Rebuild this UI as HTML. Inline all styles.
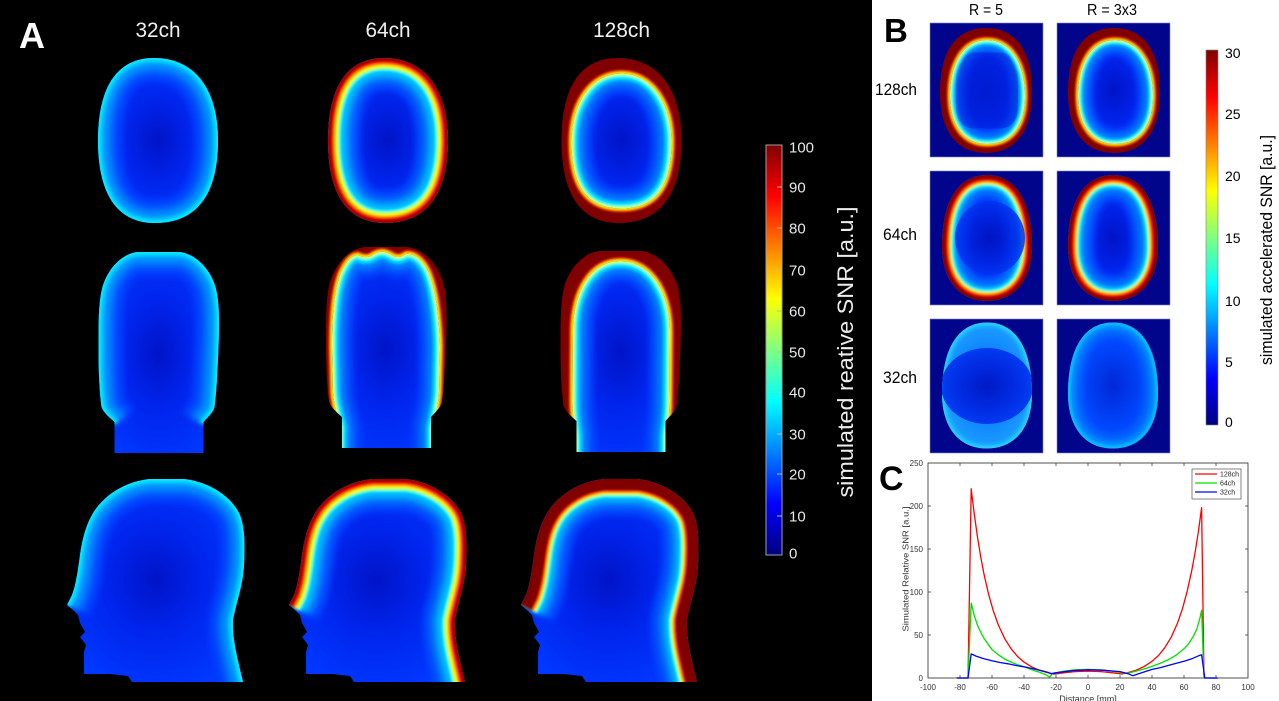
<!DOCTYPE html>
<html><head><meta charset="utf-8">
<style>
html,body{margin:0;padding:0;background:#000;}
svg{display:block;}
text{font-family:"Liberation Sans",sans-serif;}
</style></head><body>
<svg width="1279" height="701" viewBox="0 0 1279 701" xmlns="http://www.w3.org/2000/svg">
<defs>
 <path id="axO" d="M -4,-82.5 C 35,-82.5 60,-53.6 60,0 C 60,53.6 39,82.5 -3,82.5 C -41,82.5 -60,53.6 -60,0 C -60,-53.6 -41,-82.5 -4,-82.5 Z"/>
 <path id="axI" d="M 0,-67 C 30,-67 50,-38 50,2 C 50,45 35,68 0,68 C -35,68 -50,45 -50,2 C -50,-38 -30,-67 0,-67 Z"/>
 <path id="corO" d="M -21,0 L 21,0 C 38,2 52,18 57,35 C 61,50 61,70 60,95 C 59,120 58,140 56,155 C 54,162 48,166 45,170 L 45,201 L -44,201 L -44,170 C -48,166 -54,162 -57,155 C -59,140 -60,120 -60,95 C -60,70 -60,50 -56,35 C -51,18 -38,2 -21,0 Z"/>
 <path id="corB" d="M -44,172 C -48,166 -54,162 -57,155 C -59,140 -60,120 -60,95 C -60,70 -60,50 -56,35 C -51,18 -38,2 -21,0 L 21,0 C 38,2 52,18 57,35 C 61,50 61,70 60,95 C 59,120 58,140 56,155 C 54,162 48,166 45,172"/>
 <path id="c64I" d="M -46,260 L -46,180 C -48,170 -52,160 -53,145 L -54,100 C -54,70 -52,45 -46,28 C -41,16 -35,8 -28,8 C -22,11 -17,11 -12,7 C -6,4 -2,4 4,7 C 10,11 14,11 20,7 C 28,6 36,12 42,24 C 49,40 53,65 54,100 L 53,145 C 52,160 49,170 47,180 L 47,260 Z"/>
 <path id="c128I" d="M -45,260 L -45,185 C -46,175 -48,165 -48,150 L -47.5,80 C -47,40 -30,10 0,10 C 30,10 49,40 49.5,80 L 49,150 C 49,165 47,175 46,185 L 46,260 Z"/>
 <path id="sagO" d="M 150,479 L 184,479 C 210,482 232,497 240,515 C 245,528 245,545 244,565 C 243,585 237,600 233,620 C 232,640 238,660 243,682 L 132,682 L 128,676 L 110,674 L 84,674 L 84,652 L 86,645 L 80,637 L 85,632 L 80,623 L 78,615 L 73,610 L 67,605 L 72,595 C 76,585 78,570 80,555 C 82,540 86,525 92,515 C 100,500 120,482 150,479 Z"/>
 <path id="sagB" d="M 67,605 L 72,595 C 76,585 78,570 80,555 C 82,540 86,525 92,515 C 100,500 120,482 150,479 L 184,479 C 210,482 232,497 240,515 C 245,528 245,545 244,565 C 243,585 237,600 233,620 C 232,640 238,660 243,682 L 246,700"/>
 <path id="bO" d="M 0,-62.5 C 30,-62.5 46,-40 46,2 C 46,40 30,62.5 0,62.5 C -30,62.5 -46,40 -46,2 C -46,-40 -30,-62.5 0,-62.5 Z"/>
 <path id="bI" d="M 1,-50.5 C 24,-50.5 39,-28 39,5 C 39,35 26,53.5 1,53.5 C -22,53.5 -36,35 -36,5 C -36,-28 -22,-50.5 1,-50.5 Z"/>
 <path id="bE" d="M 0,-63 C 30,-63 45,-35 45,8 C 45,42 28,63 0,63 C -28,63 -45,42 -45,8 C -45,-35 -30,-63 0,-63 Z"/>
 <clipPath id="cAx"><use href="#axO"/></clipPath>
 <clipPath id="cAxI"><use href="#axI"/></clipPath>
 <clipPath id="cCor"><use href="#corO"/></clipPath>
 <clipPath id="c64Ic"><use href="#c64I"/></clipPath>
 <clipPath id="c128Ic"><use href="#c128I"/></clipPath>
 <clipPath id="cSag"><use href="#sagO"/></clipPath>
 <clipPath id="cB"><use href="#bO"/></clipPath>
 <clipPath id="cBI"><use href="#bI"/></clipPath>
 <clipPath id="cBE"><use href="#bE"/></clipPath>
 <filter id="bl" filterUnits="userSpaceOnUse" x="-2000" y="-2000" width="5000" height="5000"><feGaussianBlur stdDeviation="1.2"/></filter>
 <filter id="bl2" filterUnits="userSpaceOnUse" x="-2000" y="-2000" width="5000" height="5000"><feGaussianBlur stdDeviation="3"/></filter>
 <radialGradient id="gi" cx="50%" cy="50%" r="55%">
  <stop offset="0" stop-color="#0014c8"/><stop offset="0.45" stop-color="#0024ec"/><stop offset="1" stop-color="#0038ff"/>
 </radialGradient>
 <radialGradient id="gi32" cx="50%" cy="50%" r="55%">
  <stop offset="0" stop-color="#0028d8"/><stop offset="0.6" stop-color="#0048ff"/><stop offset="1" stop-color="#1070ff"/>
 </radialGradient>
 <radialGradient id="gLite" cx="50%" cy="50%" r="55%">
  <stop offset="0" stop-color="#0060ff"/><stop offset="1" stop-color="#20a8ff"/>
 </radialGradient>
 <radialGradient id="gDark" cx="50%" cy="50%" r="50%">
  <stop offset="0" stop-color="#0014c0"/><stop offset="0.6" stop-color="#0024e0"/><stop offset="1" stop-color="#0034f0"/>
 </radialGradient>
 <linearGradient id="jet" x1="0" y1="1" x2="0" y2="0">
  <stop offset="0" stop-color="#000080"/><stop offset="0.125" stop-color="#0000ff"/><stop offset="0.375" stop-color="#00ffff"/><stop offset="0.625" stop-color="#ffff00"/><stop offset="0.875" stop-color="#ff0000"/><stop offset="1" stop-color="#800000"/>
 </linearGradient>
</defs>

<rect width="1279" height="701" fill="#000"/>
<rect x="872" y="0" width="407" height="701" fill="#fff"/>

<!-- ============ PANEL A ============ -->
<text x="19" y="48" font-size="36" font-weight="bold" fill="#fff">A</text>
<text x="158" y="37" font-size="21" fill="#f0f0f0" text-anchor="middle" textLength="45" lengthAdjust="spacingAndGlyphs">32ch</text>
<text x="388" y="37" font-size="21" fill="#f0f0f0" text-anchor="middle" textLength="45" lengthAdjust="spacingAndGlyphs">64ch</text>
<text x="621.5" y="37" font-size="21" fill="#f0f0f0" text-anchor="middle" textLength="57" lengthAdjust="spacingAndGlyphs">128ch</text>

<!-- Row 1 axial -->
<g transform="translate(158,140.5)"><g clip-path="url(#cAx)">
 <rect x="-62" y="-85" width="124" height="170" fill="url(#gi)"/>
 <g filter="url(#bl2)" fill="none">
  <use href="#axO" stroke="#0040ff" stroke-width="48"/>
  <use href="#axO" stroke="#0068ff" stroke-width="32"/>
  <use href="#axO" stroke="#0098ff" stroke-width="20"/>
 </g>
 <g filter="url(#bl)" fill="none">
  <use href="#axO" stroke="#00c8ff" stroke-width="10"/>
  <use href="#axO" stroke="#10e8ff" stroke-width="4"/>
 </g>
</g></g>
<g transform="translate(388,140.5)"><g clip-path="url(#cAx)">
 <rect x="-62" y="-85" width="124" height="170" fill="url(#gi)"/>
 <g filter="url(#bl2)" fill="none">
  <use href="#axO" stroke="#0048ff" stroke-width="64"/>
  <use href="#axO" stroke="#0078ff" stroke-width="48"/>
  <use href="#axO" stroke="#00c0ff" stroke-width="36"/>
 </g>
 <g filter="url(#bl)" fill="none">
  <use href="#axO" stroke="#00ffff" stroke-width="26"/>
  <use href="#axO" stroke="#c0ff40" stroke-width="22"/>
  <use href="#axO" stroke="#ffff00" stroke-width="18"/>
  <use href="#axO" stroke="#ff8000" stroke-width="14"/>
  <use href="#axO" stroke="#ff0000" stroke-width="11"/>
  <use href="#axO" stroke="#a00000" stroke-width="7"/>
 </g>
</g></g>
<g transform="translate(621.5,140.5)"><g clip-path="url(#cAx)">
 <rect x="-62" y="-85" width="124" height="170" fill="#800000"/>
 <g filter="url(#bl)" fill="none">
  <use href="#axI" stroke="#ff0000" stroke-width="7"/>
  <use href="#axI" stroke="#ff9000" stroke-width="4.5"/>
  <use href="#axI" stroke="#ffff00" stroke-width="2.5"/>
 </g>
 <g clip-path="url(#cAxI)">
  <rect x="-62" y="-85" width="124" height="170" fill="url(#gi)"/>
  <g filter="url(#bl2)" fill="none">
   <use href="#axI" stroke="#0048ff" stroke-width="40"/>
   <use href="#axI" stroke="#0080ff" stroke-width="24"/>
  </g>
  <g filter="url(#bl)" fill="none">
   <use href="#axI" stroke="#00d0ff" stroke-width="14"/>
   <use href="#axI" stroke="#00ffff" stroke-width="8"/>
   <use href="#axI" stroke="#a0ff80" stroke-width="4"/>
   <use href="#axI" stroke="#ffff00" stroke-width="2"/>
  </g>
 </g>
</g></g>

<!-- Row 2 coronal -->
<g transform="translate(158.5,252)"><g clip-path="url(#cCor)">
 <rect x="-65" y="-5" width="130" height="215" fill="url(#gi)"/>
 <g filter="url(#bl2)" fill="none">
  <use href="#corB" stroke="#0040ff" stroke-width="48"/>
  <use href="#corB" stroke="#0068ff" stroke-width="32"/>
  <use href="#corB" stroke="#0098ff" stroke-width="20"/>
 </g>
 <g filter="url(#bl)" fill="none">
  <use href="#corB" stroke="#00c8ff" stroke-width="10"/>
  <use href="#corB" stroke="#10e8ff" stroke-width="4"/>
 </g>
</g></g>
<g transform="translate(386,247)"><g clip-path="url(#cCor)">
 <rect x="-65" y="-5" width="130" height="215" fill="#800000"/>
 <g filter="url(#bl)" fill="none">
  <use href="#c64I" stroke="#ff0000" stroke-width="7"/>
  <use href="#c64I" stroke="#ff9000" stroke-width="4.5"/>
  <use href="#c64I" stroke="#ffff00" stroke-width="2.5"/>
 </g>
 <g clip-path="url(#c64Ic)">
  <rect x="-65" y="-5" width="130" height="215" fill="url(#gi)"/>
  <g filter="url(#bl2)" fill="none">
   <use href="#c64I" stroke="#0048ff" stroke-width="40"/>
   <use href="#c64I" stroke="#0080ff" stroke-width="24"/>
  </g>
  <g filter="url(#bl)" fill="none">
   <use href="#c64I" stroke="#00d0ff" stroke-width="14"/>
   <use href="#c64I" stroke="#00ffff" stroke-width="8"/>
   <use href="#c64I" stroke="#a0ff80" stroke-width="4"/>
   <use href="#c64I" stroke="#ffff00" stroke-width="2"/>
  </g>
 </g>
</g></g>
<g transform="translate(620.5,251)"><g clip-path="url(#cCor)">
 <rect x="-65" y="-5" width="130" height="215" fill="#800000"/>
 <g filter="url(#bl)" fill="none">
  <use href="#c128I" stroke="#ff0000" stroke-width="7"/>
  <use href="#c128I" stroke="#ff9000" stroke-width="4.5"/>
  <use href="#c128I" stroke="#ffff00" stroke-width="2.5"/>
 </g>
 <g clip-path="url(#c128Ic)">
  <rect x="-65" y="-5" width="130" height="215" fill="url(#gi)"/>
  <g filter="url(#bl2)" fill="none">
   <use href="#c128I" stroke="#0048ff" stroke-width="40"/>
   <use href="#c128I" stroke="#0080ff" stroke-width="24"/>
  </g>
  <g filter="url(#bl)" fill="none">
   <use href="#c128I" stroke="#00d0ff" stroke-width="14"/>
   <use href="#c128I" stroke="#00ffff" stroke-width="8"/>
   <use href="#c128I" stroke="#a0ff80" stroke-width="4"/>
   <use href="#c128I" stroke="#ffff00" stroke-width="2"/>
  </g>
 </g>
</g></g>

<!-- Row 3 sagittal -->
<g><g clip-path="url(#cSag)">
 <rect x="60" y="475" width="190" height="210" fill="url(#gi)"/>
 <g filter="url(#bl2)" fill="none">
  <use href="#sagB" stroke="#0040ff" stroke-width="48"/>
  <use href="#sagB" stroke="#0068ff" stroke-width="32"/>
  <use href="#sagB" stroke="#0098ff" stroke-width="20"/>
 </g>
 <g filter="url(#bl)" fill="none">
  <use href="#sagB" stroke="#00c8ff" stroke-width="10"/>
  <use href="#sagB" stroke="#10e8ff" stroke-width="4"/>
 </g>
</g></g>
<g transform="translate(222,0)"><g clip-path="url(#cSag)">
 <rect x="60" y="475" width="190" height="210" fill="url(#gi)"/>
 <g filter="url(#bl2)" fill="none">
  <use href="#sagB" stroke="#0048ff" stroke-width="64"/>
  <use href="#sagB" stroke="#0078ff" stroke-width="48"/>
  <use href="#sagB" stroke="#00c0ff" stroke-width="36"/>
 </g>
 <g filter="url(#bl)" fill="none">
  <use href="#sagB" stroke="#00ffff" stroke-width="26"/>
  <use href="#sagB" stroke="#c0ff40" stroke-width="22"/>
  <use href="#sagB" stroke="#ffff00" stroke-width="18"/>
  <use href="#sagB" stroke="#ff8000" stroke-width="14"/>
  <use href="#sagB" stroke="#ff0000" stroke-width="11"/>
  <use href="#sagB" stroke="#a00000" stroke-width="7"/>
 </g>
</g></g>
<g transform="translate(454,0)"><g clip-path="url(#cSag)">
 <rect x="60" y="475" width="190" height="210" fill="url(#gi)"/>
 <g filter="url(#bl2)" fill="none">
  <use href="#sagB" stroke="#0048ff" stroke-width="72"/>
  <use href="#sagB" stroke="#0078ff" stroke-width="56"/>
  <use href="#sagB" stroke="#00c0ff" stroke-width="44"/>
 </g>
 <g filter="url(#bl)" fill="none">
  <use href="#sagB" stroke="#00ffff" stroke-width="37"/>
  <use href="#sagB" stroke="#c0ff40" stroke-width="33"/>
  <use href="#sagB" stroke="#ffff00" stroke-width="30"/>
  <use href="#sagB" stroke="#ff8000" stroke-width="28"/>
  <use href="#sagB" stroke="#ff0000" stroke-width="26"/>
  <use href="#sagB" stroke="#800000" stroke-width="23"/>
 </g>
</g></g>

<!-- Colorbar A -->
<rect x="766" y="145" width="16" height="410" fill="url(#jet)" stroke="#a0a0a0" stroke-width="1"/>
<g stroke="#b8b8b8" stroke-width="1">
 <line x1="777" y1="187" x2="782" y2="187"/><line x1="777" y1="228" x2="782" y2="228"/>
 <line x1="777" y1="270" x2="782" y2="270"/><line x1="777" y1="311" x2="782" y2="311"/>
 <line x1="777" y1="352" x2="782" y2="352"/><line x1="777" y1="392" x2="782" y2="392"/>
 <line x1="777" y1="434" x2="782" y2="434"/><line x1="777" y1="474" x2="782" y2="474"/>
 <line x1="777" y1="516" x2="782" y2="516"/>
</g>
<g font-size="15" fill="#e8e8e8">
 <text x="789" y="152.5">100</text><text x="789" y="192.5">90</text><text x="789" y="233.5">80</text>
 <text x="789" y="275.5">70</text><text x="789" y="316.5">60</text><text x="789" y="357.5">50</text>
 <text x="789" y="397.5">40</text><text x="789" y="439.5">30</text><text x="789" y="479.5">20</text>
 <text x="789" y="521.5">10</text><text x="789" y="558.5">0</text>
</g>
<text transform="translate(853,352) rotate(-90)" text-anchor="middle" font-size="22" fill="#ececec" textLength="291" lengthAdjust="spacingAndGlyphs">simulated reative SNR [a.u.]</text>

<!-- ============ PANEL B ============ -->
<text x="884" y="42" font-size="33" font-weight="bold" fill="#000">B</text>
<text x="986" y="15" font-size="15.5" fill="#000" text-anchor="middle" textLength="34" lengthAdjust="spacingAndGlyphs">R = 5</text>
<text x="1112" y="15" font-size="15.5" fill="#000" text-anchor="middle" textLength="50" lengthAdjust="spacingAndGlyphs">R = 3x3</text>
<text x="917" y="95" font-size="16.5" fill="#000" text-anchor="end" textLength="42" lengthAdjust="spacingAndGlyphs">128ch</text>
<text x="917" y="240" font-size="16.5" fill="#000" text-anchor="end" textLength="34" lengthAdjust="spacingAndGlyphs">64ch</text>
<text x="917" y="383" font-size="16.5" fill="#000" text-anchor="end" textLength="34" lengthAdjust="spacingAndGlyphs">32ch</text>

<g fill="#00058c" stroke="#8088c8" stroke-width="0.6">
 <rect x="930" y="23" width="113" height="134"/><rect x="1057" y="23" width="113" height="134"/>
 <rect x="930" y="171" width="113" height="134"/><rect x="1057" y="171" width="113" height="134"/>
 <rect x="930" y="319" width="113" height="134"/><rect x="1057" y="319" width="113" height="134"/>
</g>

<!-- B 128ch -->
<g transform="translate(986,90.5)"><g clip-path="url(#cB)">
 <rect x="-50" y="-65" width="100" height="130" fill="#800000"/>
 <g filter="url(#bl)" fill="none">
  <use href="#bI" stroke="#ff0000" stroke-width="6"/>
  <use href="#bI" stroke="#ff9000" stroke-width="4"/>
  <use href="#bI" stroke="#ffff00" stroke-width="2"/>
 </g>
 <g clip-path="url(#cBI)">
  <rect x="-50" y="-65" width="100" height="130" fill="url(#gi)"/>
  <g filter="url(#bl2)" fill="none">
   <use href="#bI" stroke="#0048ff" stroke-width="30"/>
   <use href="#bI" stroke="#0080ff" stroke-width="18"/>
  </g>
  <rect x="-30" y="-38" width="62" height="76" rx="18" fill="#0020d8" opacity="0.55"/>
  <g filter="url(#bl)" fill="none">
   <use href="#bI" stroke="#00d0ff" stroke-width="10"/>
   <use href="#bI" stroke="#00ffff" stroke-width="6"/>
   <use href="#bI" stroke="#a0ff80" stroke-width="3"/>
   <use href="#bI" stroke="#ffff00" stroke-width="1.5"/>
  </g>
 </g>
</g></g>
<g transform="translate(1114,90.5)"><g clip-path="url(#cB)">
 <rect x="-50" y="-65" width="100" height="130" fill="#800000"/>
 <g filter="url(#bl)" fill="none">
  <use href="#bI" stroke="#ff0000" stroke-width="6"/>
  <use href="#bI" stroke="#ff9000" stroke-width="4"/>
  <use href="#bI" stroke="#ffff00" stroke-width="2"/>
 </g>
 <g clip-path="url(#cBI)">
  <rect x="-50" y="-65" width="100" height="130" fill="url(#gi)"/>
  <g filter="url(#bl2)" fill="none">
   <use href="#bI" stroke="#0048ff" stroke-width="30"/>
   <use href="#bI" stroke="#0080ff" stroke-width="18"/>
  </g>
  <g filter="url(#bl)" fill="none">
   <use href="#bI" stroke="#00d0ff" stroke-width="10"/>
   <use href="#bI" stroke="#00ffff" stroke-width="6"/>
   <use href="#bI" stroke="#a0ff80" stroke-width="3"/>
   <use href="#bI" stroke="#ffff00" stroke-width="1.5"/>
  </g>
 </g>
</g></g>

<!-- B 64ch -->
<g transform="translate(987,238)"><g clip-path="url(#cBE)">
 <rect x="-50" y="-66" width="100" height="132" fill="url(#gi)"/>
 <g filter="url(#bl2)" fill="none">
  <use href="#bE" stroke="#0048ff" stroke-width="52"/>
  <use href="#bE" stroke="#0078ff" stroke-width="38"/>
 </g>
 <g filter="url(#bl)" fill="none">
  <use href="#bE" stroke="#00c0ff" stroke-width="28"/>
  <use href="#bE" stroke="#00ffff" stroke-width="22"/>
  <use href="#bE" stroke="#c0ff40" stroke-width="19"/>
  <use href="#bE" stroke="#ffff00" stroke-width="17"/>
  <use href="#bE" stroke="#ff8000" stroke-width="15"/>
  <use href="#bE" stroke="#ff0000" stroke-width="13"/>
  <use href="#bE" stroke="#800000" stroke-width="8"/>
 </g>
 <ellipse cx="3" cy="0" rx="35" ry="37" fill="url(#gDark)" opacity="0.85"/>
</g></g>
<g transform="translate(1113,238)"><g clip-path="url(#cBE)">
 <rect x="-50" y="-66" width="100" height="132" fill="url(#gi)"/>
 <g filter="url(#bl2)" fill="none">
  <use href="#bE" stroke="#0048ff" stroke-width="52"/>
  <use href="#bE" stroke="#0078ff" stroke-width="38"/>
 </g>
 <g filter="url(#bl)" fill="none">
  <use href="#bE" stroke="#00c0ff" stroke-width="28"/>
  <use href="#bE" stroke="#00ffff" stroke-width="22"/>
  <use href="#bE" stroke="#c0ff40" stroke-width="19"/>
  <use href="#bE" stroke="#ffff00" stroke-width="17"/>
  <use href="#bE" stroke="#ff8000" stroke-width="15"/>
  <use href="#bE" stroke="#ff0000" stroke-width="13"/>
  <use href="#bE" stroke="#800000" stroke-width="8"/>
 </g>
</g></g>

<!-- B 32ch -->
<g transform="translate(987,385.5)"><g clip-path="url(#cBE)">
 <rect x="-50" y="-66" width="100" height="132" fill="url(#gLite)"/>
 <g filter="url(#bl)" fill="none">
  <use href="#bE" stroke="#18b0ff" stroke-width="10"/>
  <use href="#bE" stroke="#30d0ff" stroke-width="4"/>
 </g>
 <ellipse cx="0" cy="0.5" rx="46" ry="38" fill="url(#gDark)" opacity="0.92"/>
</g></g>
<g transform="translate(1113,385.5)"><g clip-path="url(#cBE)">
 <rect x="-50" y="-66" width="100" height="132" fill="url(#gi32)"/>
 <g filter="url(#bl2)" fill="none">
  <use href="#bE" stroke="#0060ff" stroke-width="28"/>
  <use href="#bE" stroke="#0090ff" stroke-width="14"/>
 </g>
 <g filter="url(#bl)" fill="none">
  <use href="#bE" stroke="#10b8ff" stroke-width="6"/>
 </g>
</g></g>

<!-- Colorbar B -->
<rect x="1206" y="50" width="12" height="375" fill="url(#jet)" stroke="#808080" stroke-width="0.6"/>
<g font-size="14" fill="#000">
 <text x="1225" y="58">30</text><text x="1225" y="119">25</text><text x="1225" y="181">20</text>
 <text x="1225" y="243">15</text><text x="1225" y="306">10</text><text x="1225" y="367">5</text>
 <text x="1225" y="427">0</text>
</g>
<text transform="translate(1272,250) rotate(-90)" text-anchor="middle" font-size="17" fill="#000" textLength="230" lengthAdjust="spacingAndGlyphs">simulated accelerated SNR [a.u.]</text>

<!-- ============ PANEL C ============ -->
<text x="879" y="490" font-size="34" font-weight="bold" fill="#000">C</text>
<rect x="928" y="463" width="320" height="215" fill="#fff" stroke="#262626" stroke-width="0.8"/>
<g stroke="#262626" stroke-width="0.7">
 <line x1="928" y1="506" x2="931" y2="506"/><line x1="928" y1="549" x2="931" y2="549"/>
 <line x1="928" y1="592" x2="931" y2="592"/><line x1="928" y1="635" x2="931" y2="635"/>
 <line x1="1245" y1="506" x2="1248" y2="506"/><line x1="1245" y1="549" x2="1248" y2="549"/>
 <line x1="1245" y1="592" x2="1248" y2="592"/><line x1="1245" y1="635" x2="1248" y2="635"/>
 <line x1="960" y1="678" x2="960" y2="675"/><line x1="992" y1="678" x2="992" y2="675"/>
 <line x1="1024" y1="678" x2="1024" y2="675"/><line x1="1056" y1="678" x2="1056" y2="675"/>
 <line x1="1088" y1="678" x2="1088" y2="675"/><line x1="1120" y1="678" x2="1120" y2="675"/>
 <line x1="1152" y1="678" x2="1152" y2="675"/><line x1="1184" y1="678" x2="1184" y2="675"/>
 <line x1="1216" y1="678" x2="1216" y2="675"/>
 <line x1="960" y1="463" x2="960" y2="466"/><line x1="992" y1="463" x2="992" y2="466"/>
 <line x1="1024" y1="463" x2="1024" y2="466"/><line x1="1056" y1="463" x2="1056" y2="466"/>
 <line x1="1088" y1="463" x2="1088" y2="466"/><line x1="1120" y1="463" x2="1120" y2="466"/>
 <line x1="1152" y1="463" x2="1152" y2="466"/><line x1="1184" y1="463" x2="1184" y2="466"/>
 <line x1="1216" y1="463" x2="1216" y2="466"/>
</g>
<g font-size="8" fill="#333" text-anchor="end">
 <text x="923" y="466">250</text><text x="923" y="509">200</text><text x="923" y="552">150</text>
 <text x="923" y="595">100</text><text x="923" y="638">50</text><text x="923" y="681">0</text>
</g>
<g font-size="8" fill="#333" text-anchor="middle">
 <text x="928" y="690">-100</text><text x="960" y="690">-80</text><text x="992" y="690">-60</text>
 <text x="1024" y="690">-40</text><text x="1056" y="690">-20</text><text x="1088" y="690">0</text>
 <text x="1120" y="690">20</text><text x="1152" y="690">40</text><text x="1184" y="690">60</text>
 <text x="1216" y="690">80</text><text x="1248" y="690">100</text>
</g>
<text x="1088" y="702" font-size="9" fill="#333" text-anchor="middle">Distance [mm]</text>
<text transform="translate(908.5,569) rotate(-90)" font-size="8.5" fill="#333" text-anchor="middle" textLength="125" lengthAdjust="spacingAndGlyphs">Simulated Relative SNR [a.u.]</text>

<g fill="none" stroke-width="1.3" stroke-linejoin="round">
 <polyline stroke="#ff0000" points="956.8,678 968,678 971.2,488.8 974.4,515.1 977.6,537.8 980.8,557.3 984,574.2 988.8,595.1 993.6,611.8 998.4,625.1 1004.8,638.8 1011.2,648.9 1017.6,656.5 1024,662.1 1032,667.1 1040,670.5 1048,672.8 1054.4,674.1 1064,672.7 1075.2,671.6 1088,671.1 1100.8,671.6 1112,672.7 1121.6,674 1128,672.6 1136,670.2 1144,666.6 1152,661.3 1158.4,655.6 1164.8,647.7 1171.2,637.2 1177.6,622.9 1182.4,608.9 1187.2,591.2 1192,569.3 1195.2,551.8 1198.4,531.5 1201.6,507.7 1204,678 1217.6,678"/>
 <polyline stroke="#00e000" points="956.8,678 968,678 971.2,603.2 974.4,616.1 977.6,625.5 980.8,632.4 984,638.4 988.8,645.3 992,649.6 998.4,654.8 1004.8,659.1 1011.2,662.1 1017.6,664.7 1024,666.8 1032,669.8 1040,672.4 1046.4,675 1049.6,677.1 1052.8,673.3 1064,671.1 1075.2,669.8 1088,669.4 1100.8,669.8 1112,671.1 1123.2,672.8 1128,673.3 1136,671.1 1144,669 1152,666.4 1160,663.4 1168,659.9 1176,655.2 1184,648.8 1188.8,643.6 1193.6,635.9 1196.8,629 1200,617.8 1201.6,610.1 1204,678 1217.6,678"/>
 <polyline stroke="#0000ff" points="956.8,678 968,678 971.2,653.9 976,656.1 984,658.7 992,660.8 1000,662.5 1008,663.8 1016,665.5 1024,666.8 1032,668.5 1040,670.3 1048,672.4 1051.2,673.7 1056,672.8 1072,670.7 1088,669.8 1104,670.3 1120,671.6 1128,673.7 1132.8,675.7 1136,674.6 1144,672 1152,669.4 1160,667.7 1168,665.5 1176,663.4 1184,661.2 1192,658.7 1200,655.2 1201.6,654.8 1204.8,678 1217.6,678"/>
</g>

<!-- Legend -->
<rect x="1192" y="469" width="49" height="30" fill="#fff" stroke="#333" stroke-width="0.6"/>
<line x1="1195" y1="474" x2="1217" y2="474" stroke="#ff0000" stroke-width="1.3"/>
<line x1="1195" y1="483" x2="1217" y2="483" stroke="#00e000" stroke-width="1.3"/>
<line x1="1195" y1="492" x2="1217" y2="492" stroke="#0000ff" stroke-width="1.3"/>
<g font-size="7" fill="#222">
 <text x="1220" y="476.5">128ch</text><text x="1220" y="485.5">64ch</text><text x="1220" y="494.5">32ch</text>
</g>
</svg>
</body></html>
